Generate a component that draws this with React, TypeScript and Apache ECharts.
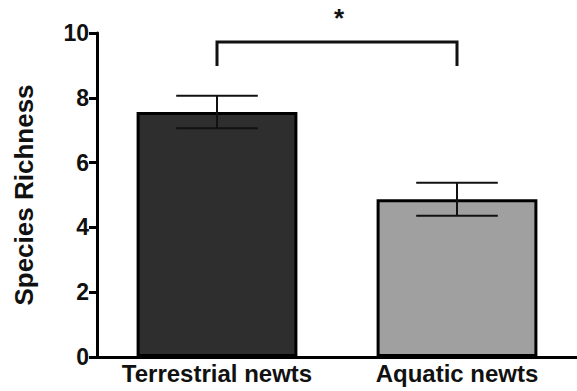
import React, { useEffect, useRef } from "react";
import * as echarts from "echarts";

const categories = ["Terrestrial newts", "Aquatic newts"];
const means = [7.56, 4.87];
const errors = [0.5, 0.51];
const barColors = ["#2e2e2e", "#a0a0a0"];
const yTicks = { min: 0, max: 10, interval: 2 };
// significance bracket: [fromIndex, toIndex, legBottom, top, starY]
const bracket = [[0, 1, 8.98, 9.72, 10.45]];
const starLabel = "*";
const yTitle = "Species Richness";

export default function App() {
  const ref = useRef<HTMLDivElement>(null);
  useEffect(() => {
    document.body.style.margin = "0";
    const chart = echarts.init(ref.current!, null, { renderer: "svg" });
    const font = "'Liberation Sans', Arial, sans-serif";
    chart.setOption({
      animation: false,
      grid: { left: 97, right: 0, top: 33, bottom: 34, containLabel: false },
      xAxis: {
        type: "category",
        data: categories,
        axisLine: { lineStyle: { color: "#000", width: 3 } },
        axisTick: { show: false },
        axisLabel: {
          interval: 0,
          fontSize: 24,
          fontWeight: "bold",
          color: "#111",
          fontFamily: font,
          margin: 4,
        },
      },
      yAxis: {
        type: "value",
        min: yTicks.min,
        max: yTicks.max,
        interval: yTicks.interval,
        name: yTitle,
        nameLocation: "middle",
        nameGap: 60,
        nameTextStyle: { fontSize: 26, fontWeight: "bold", color: "#111", fontFamily: font },
        axisLine: { show: true, lineStyle: { color: "#000", width: 3 } },
        axisTick: { show: true, length: 8, lineStyle: { color: "#000", width: 3 } },
        splitLine: { show: false },
        axisLabel: {
          fontSize: 23,
          fontWeight: "bold",
          color: "#111",
          fontFamily: font,
          margin: 8,
        },
      },
      series: [
        {
          type: "bar",
          barWidth: "67%",
          data: means.map((v, i) => ({
            value: v,
            itemStyle: { color: barColors[i], borderColor: "#000", borderWidth: 3 },
          })),
          z: 2,
        },
        {
          type: "custom",
          z: 5,
          data: means.map((m, i) => [i, m, errors[i]]),
          renderItem: (params: any, api: any) => {
            const x = api.value(0);
            const m = api.value(1);
            const e = api.value(2);
            const top = api.coord([x, m + e]);
            const bot = api.coord([x, m - e]);
            const half = api.size([1, 0])[0] * 0.17;
            const style = { stroke: "#111", lineWidth: 2 };
            return {
              type: "group",
              children: [
                { type: "line", shape: { x1: top[0], y1: top[1], x2: bot[0], y2: bot[1] }, style },
                { type: "line", shape: { x1: top[0] - half, y1: top[1], x2: top[0] + half, y2: top[1] }, style },
                { type: "line", shape: { x1: bot[0] - half, y1: bot[1], x2: bot[0] + half, y2: bot[1] }, style },
              ],
            };
          },
        },
        {
          type: "custom",
          z: 5,
          clip: false,
          data: bracket,
          renderItem: (params: any, api: any) => {
            const a = api.value(0);
            const b = api.value(1);
            const low = api.value(2);
            const high = api.value(3);
            const s = api.value(4);
            const p1 = api.coord([a, low]);
            const p2 = api.coord([a, high]);
            const p3 = api.coord([b, high]);
            const p4 = api.coord([b, low]);
            const ps = api.coord([a, s]);
            const pe = api.coord([b, s]);
            return {
              type: "group",
              children: [
                {
                  type: "polyline",
                  shape: { points: [p1, p2, p3, p4] },
                  style: { stroke: "#111", lineWidth: 3, fill: null },
                },
                {
                  type: "text",
                  x: (ps[0] + pe[0]) / 2 + 2,
                  y: ps[1],
                  style: {
                    text: starLabel,
                    fontSize: 26,
                    fontWeight: "bold",
                    fontFamily: font,
                    fill: "#111",
                    align: "center",
                    verticalAlign: "middle",
                  },
                },
              ],
            };
          },
        },
      ],
    });
    return () => chart.dispose();
  }, []);
  return <div ref={ref} style={{ width: 577, height: 391 }} />;
}
